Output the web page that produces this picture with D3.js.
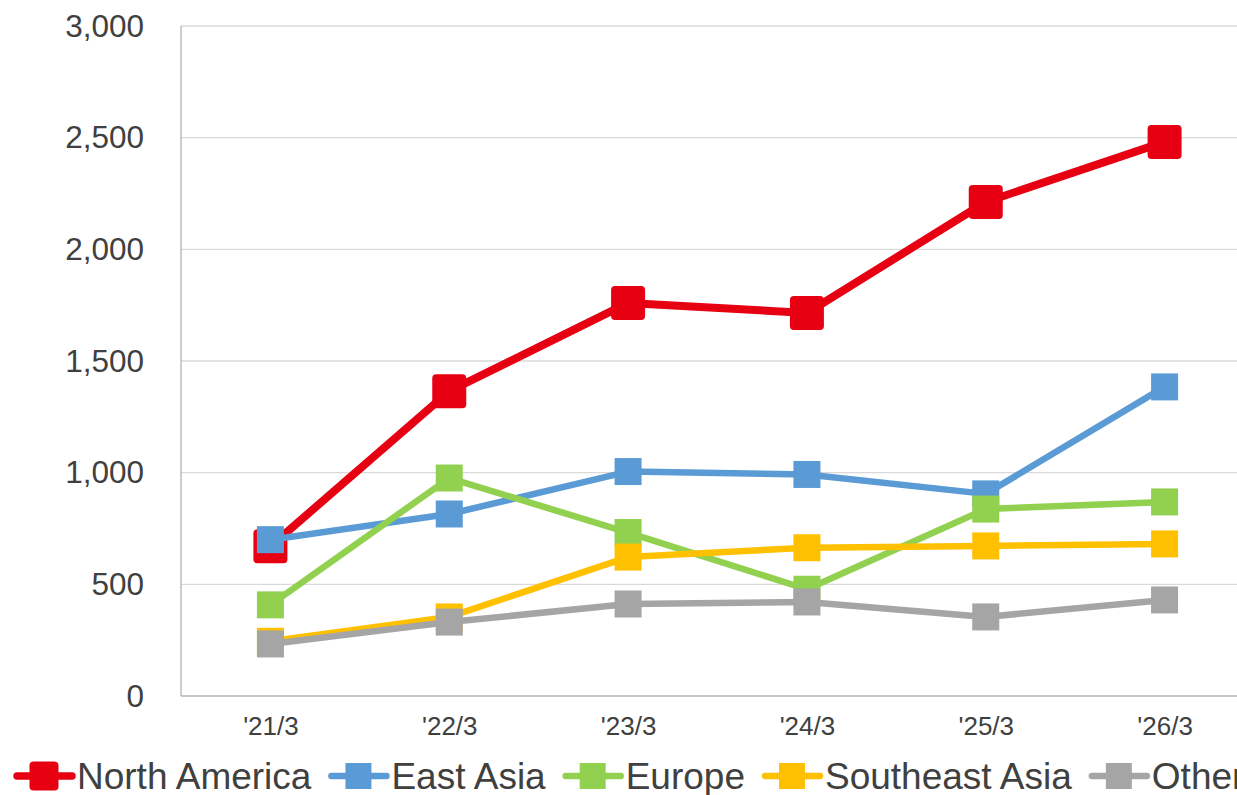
<!DOCTYPE html>
<html><head><meta charset="utf-8">
<script src="https://cdn.jsdelivr.net/npm/d3@7"></script>
<style>body{margin:0;background:#fff;}svg{display:block;font-family:"Liberation Sans",Arial,sans-serif;}</style>
</head><body>
<svg id="c" width="1237" height="795"></svg>
<script>
const categories = ["'21/3","'22/3","'23/3","'24/3","'25/3","'26/3"];
const seriesNames = ["North America","East Asia","Europe","Southeast Asia","Other"];
const northAmerica = [670,1365,1760,1715,2212,2481];
const eastAsia = [700,815,1005,992,905,1384];
const europe = [408,976,732,478,837,869];
const southeastAsia = [245,354,622,664,672,681];
const other = [233,331,412,421,354,430];
const yTicks = [0,500,1000,1500,2000,2500,3000];
const colors = ["#E60012","#5B9BD5","#92D050","#FFC000","#A5A5A5"];

const values = [northAmerica,eastAsia,europe,southeastAsia,other];
const svg = d3.select("#c");
const L=181, R=1254, T=26, B=696;
const x = d3.scalePoint().domain(categories).range([L,R]).padding(0.5);
const y = d3.scaleLinear().domain([0,3000]).range([B,T]);

// gridlines
svg.append("g").selectAll("line").data(yTicks.filter(d=>d>0)).join("line")
  .attr("x1",L).attr("x2",R).attr("y1",d=>y(d)).attr("y2",d=>y(d))
  .attr("stroke","#d9d9d9").attr("stroke-width",1.3);

// axes lines
svg.append("line").attr("x1",L).attr("x2",L).attr("y1",T).attr("y2",B).attr("stroke","#b3b3b3").attr("stroke-width",1.3);
svg.append("line").attr("x1",L).attr("x2",R).attr("y1",B).attr("y2",B).attr("stroke","#b3b3b3").attr("stroke-width",1.3);

const yAxis = svg.append("g").attr("transform",`translate(${L},0)`)
  .call(d3.axisLeft(y).tickValues(yTicks).tickFormat(d3.format(",")).tickSize(0).tickPadding(37));
yAxis.select(".domain").remove();
yAxis.selectAll("text").attr("font-size",31.5).attr("fill","#404040").attr("font-family","Liberation Sans, Arial, sans-serif");

const xAxis = svg.append("g").attr("transform",`translate(0,${B})`)
  .call(d3.axisBottom(x).tickSize(0).tickPadding(21));
xAxis.select(".domain").remove();
xAxis.selectAll("text").attr("font-size",26).attr("fill","#404040").attr("font-family","Liberation Sans, Arial, sans-serif");

const line = d3.line().x((d,i)=>x(categories[i])).y(d=>y(d));
values.forEach((vals,si)=>{
  const g = svg.append("g");
  const big = si===0;
  g.append("path").datum(vals).attr("d",line).attr("fill","none")
    .attr("stroke",colors[si]).attr("stroke-width",big?8:6.5).attr("stroke-linejoin","round");
  const s = big?34:27;
  g.selectAll("rect").data(vals).join("rect")
    .attr("x",(d,i)=>x(categories[i])-s/2).attr("y",d=>y(d)-s/2)
    .attr("width",s).attr("height",s).attr("rx",big?4:0).attr("fill",colors[si]);
});

// legend
const leg = svg.append("g");
let tx = 77; const ly = 776;
seriesNames.forEach((n,si)=>{
  const big = si===0;
  leg.append("line").attr("x1",tx-60).attr("x2",tx-5).attr("y1",ly).attr("y2",ly)
    .attr("stroke",colors[si]).attr("stroke-width",big?7.5:6.5).attr("stroke-linecap","round");
  const s = big?29:26;
  leg.append("rect").attr("x",tx-33-s/2).attr("y",ly-s/2).attr("width",s).attr("height",s)
    .attr("rx",big?4:0).attr("fill",colors[si]);
  const t = leg.append("text").attr("x",tx).attr("y",ly).attr("dy","0.35em")
    .attr("font-size",37).attr("fill","#404040").text(n);
  tx = tx + t.node().getComputedTextLength() + 80;
});
</script>
</body></html>
